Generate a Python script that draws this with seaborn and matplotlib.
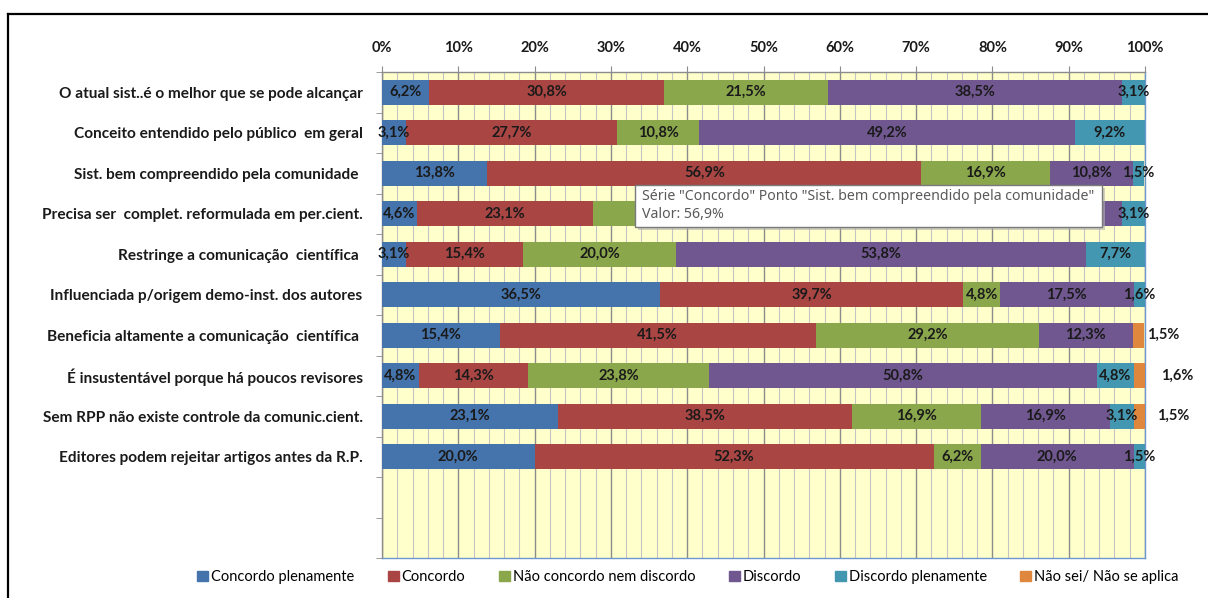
import matplotlib
matplotlib.use("Agg")
import matplotlib.pyplot as plt
import seaborn as sns
import numpy as np
import pandas as pd
from matplotlib.patches import Rectangle
from matplotlib.lines import Line2D
from matplotlib.ticker import MultipleLocator

# ---- data -------------------------------------------------------------
categories = [
    "O atual sist..é o melhor que se pode alcançar",
    "Conceito entendido pelo público  em geral",
    "Sist. bem compreendido pela comunidade ",
    "Precisa ser  complet. reformulada em per.cient.",
    "Restringe a comunicação  científica ",
    "Influenciada p/origem demo-inst. dos autores",
    "Beneficia altamente a comunicação  científica ",
    "É insustentável porque há poucos revisores",
    "Sem RPP não existe controle da comunic.cient.",
    "Editores podem rejeitar artigos antes da R.P.",
]
series = [
    "Concordo plenamente",
    "Concordo",
    "Não concordo nem discordo",
    "Discordo",
    "Discordo plenamente",
    "Não sei/ Não se aplica",
]
concordo_plenamente = [6.2, 3.1, 13.8, 4.6, 3.1, 36.5, 15.4, 4.8, 23.1, 20.0]
concordo = [30.8, 27.7, 56.9, 23.1, 15.4, 39.7, 41.5, 14.3, 38.5, 52.3]
nem_nem = [21.5, 10.8, 16.9, 18.5, 20.0, 4.8, 29.2, 23.8, 16.9, 6.2]
discordo = [38.5, 49.2, 10.8, 50.8, 53.8, 17.5, 12.3, 50.8, 16.9, 20.0]
discordo_plenamente = [3.1, 9.2, 1.5, 3.1, 7.7, 1.6, 0.0, 4.8, 3.1, 1.5]
nao_sei = [0.0, 0.0, 0.0, 0.0, 0.0, 0.0, 1.5, 1.6, 1.5, 0.0]
x_tick_labels = ["0%", "10%", "20%", "30%", "40%", "50%",
                 "60%", "70%", "80%", "90%", "100%"]

# ---- style ------------------------------------------------------------
colors = ["#4573AB", "#A94543", "#8AA74C", "#705790", "#4397B0", "#E0873E"]
plt.rcParams["font.family"] = ["Lato", "DejaVu Sans"]
W, H = 1208, 598
fig = plt.figure(figsize=(W / 100, H / 100), dpi=100)
fig.patch.set_facecolor("white")


def fx(px):
    return px / W


def fy(py):
    return 1 - py / H


AX_L, AX_R, AX_T, AX_B = 382, 1145, 72, 558
ax = fig.add_axes([fx(AX_L), fy(AX_B), fx(AX_R) - fx(AX_L), fy(AX_T) - fy(AX_B)])
ax.set_facecolor("#FFFFCC")

values = np.array([concordo_plenamente, concordo, nem_nem, discordo,
                   discordo_plenamente, nao_sei])
cum = values.cumsum(axis=0)

# stacked bars: draw running totals from the last series to the first
for i in reversed(range(len(series))):
    df = pd.DataFrame({"cat": categories, "val": cum[i]})
    sns.barplot(data=df, x="val", y="cat", order=categories, color=colors[i],
                saturation=1, width=0.62, orient="h", errorbar=None, ax=ax,
                zorder=3)

n_slots = len(categories) + 2
ax.set_xlim(0, 100)
ax.set_ylim(n_slots - 0.5, -0.5)
ax.set_xlabel("")
ax.set_ylabel("")

# hover tooltip box (pixel coordinates)
tip_l, tip_t, tip_r, tip_b = 635, 185, 1102, 227


def under_tooltip(xv, yv):
    px = AX_L + xv / 100 * (AX_R - AX_L)
    py = AX_T + (yv + 0.5) / n_slots * (AX_B - AX_T)
    return tip_l < px < tip_r and tip_t - 8 < py < tip_b + 8


# value labels
outside_x = {6: 102.4, 7: 104.2, 8: 103.7}
lab_kw = dict(ha="center", va="center", fontsize=10.5, fontweight="bold",
              color="#1A1A1A", zorder=5)
for i in range(len(series)):
    for j in range(len(categories)):
        v = values[i, j]
        if v <= 0:
            continue
        txt = f"{v:.1f}%".replace(".", ",")
        if i == 5:
            ax.text(outside_x[j], j, txt, clip_on=False, **lab_kw)
        else:
            xc = cum[i, j] - v / 2
            if under_tooltip(xc, j):
                continue
            ax.text(xc, j, txt, **lab_kw)

# grid
ax.set_axisbelow(True)
ax.xaxis.set_major_locator(MultipleLocator(10))
ax.xaxis.set_minor_locator(MultipleLocator(2))
ax.grid(axis="x", which="major", color="#8C8C8C", lw=1.0, zorder=0)
ax.grid(axis="x", which="minor", color="#C4C4C4", lw=0.8, zorder=0)
ax.grid(axis="y", visible=False)

# x axis on top
ax.xaxis.tick_top()
ax.set_xticks(np.arange(0, 101, 10))
ax.set_xticklabels(x_tick_labels, fontsize=10.5, fontweight="bold",
                   color="#1A1A1A")
ax.tick_params(axis="x", which="major", direction="out", length=4,
               color="#8C8C8C", pad=8)
ax.tick_params(axis="x", which="minor", length=0)

# y axis: labels at rows, ticks at row boundaries
ax.set_yticks(np.arange(len(categories)))
ax.set_yticklabels(categories, fontsize=11.1, fontweight="bold",
                   color="#1A1A1A")
ax.set_yticks(np.arange(-0.5, n_slots, 1), minor=True)
ax.tick_params(axis="y", which="major", length=0, pad=14)
ax.tick_params(axis="y", which="minor", direction="out", length=4,
               color="#8C8C8C")

for side in ("top", "left"):
    ax.spines[side].set_color("#8C8C8C")
    ax.spines[side].set_linewidth(1)
for side in ("right", "bottom"):
    ax.spines[side].set_color("#6F97CF")
    ax.spines[side].set_linewidth(1)

# legend
handles = [Rectangle((0, 0), 1, 1, color=c) for c in colors]
fig.legend(handles, series, loc="center", bbox_to_anchor=(fx(688), fy(577)),
           ncol=6, frameon=False, handlelength=0.75, handleheight=0.75,
           handletextpad=0.2, columnspacing=2.3, prop={"size": 10.5})

# hover tooltip on the "Concordo" bar of the third row
fig.add_artist(Rectangle((fx(tip_l + 3), fy(tip_b + 3)),
                         fx(tip_r) - fx(tip_l), fy(tip_t) - fy(tip_b),
                         transform=fig.transFigure, facecolor="#B0B0B0",
                         edgecolor="none", alpha=0.6, zorder=10))
fig.add_artist(Rectangle((fx(tip_l), fy(tip_b)),
                         fx(tip_r) - fx(tip_l), fy(tip_t) - fy(tip_b),
                         transform=fig.transFigure, facecolor="white",
                         edgecolor="#7A7A7A", lw=1, zorder=11))
tip_line1 = f'Série "{series[1]}" Ponto "{categories[2].strip()}"'
tip_line2 = f"Valor: {concordo[2]:.1f}%".replace(".", ",")
tip_kw = dict(ha="left", va="center", fontsize=10.2, color="#5A5A5A",
              family=["Noto Sans", "DejaVu Sans"], zorder=12)
fig.text(fx(tip_l + 7), fy(197), tip_line1, **tip_kw)
fig.text(fx(tip_l + 7), fy(214), tip_line2, **tip_kw)

# outer frame
fig.add_artist(Line2D([fx(8), 1.0], [fy(14), fy(14)], color="black", lw=1.6,
                      transform=fig.transFigure))
fig.add_artist(Line2D([fx(8), fx(8)], [fy(14), 0.0], color="black", lw=1.6,
                      transform=fig.transFigure))

fig.savefig("out.png", dpi=100)
